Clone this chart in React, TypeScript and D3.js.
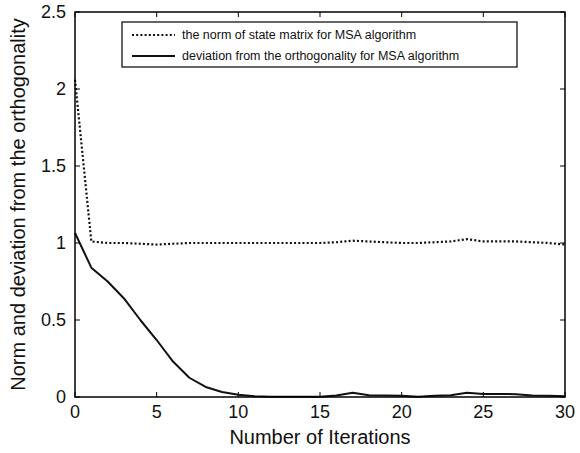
import React from "react";
import * as d3 from "d3";

// Iteration index 0..30
const iterations = d3.range(0, 31);

// Norm of the state matrix per iteration
const normValues = [
  2.06, 1.01, 1.0, 1.0, 0.995, 0.99, 0.995, 1.0, 1.0, 1.0, 1.0,
  1.0, 1.0, 1.0, 1.0, 1.0, 1.005, 1.015, 1.01, 1.005, 1.0,
  1.0, 1.005, 1.01, 1.025, 1.01, 1.01, 1.01, 1.005, 1.0, 0.99,
];

// Deviation from orthogonality per iteration
const deviationValues = [
  1.065, 0.84, 0.75, 0.64, 0.5, 0.37, 0.23, 0.125, 0.065, 0.032, 0.014,
  0.005, 0.002, 0.002, 0.002, 0.002, 0.01, 0.028, 0.012, 0.01, 0.008,
  0.002, 0.008, 0.012, 0.028, 0.02, 0.02, 0.018, 0.01, 0.008, 0.005,
];

const xTicks = [0, 5, 10, 15, 20, 25, 30];
const yTicks = [0, 0.5, 1, 1.5, 2, 2.5];

const legendLabels = [
  "the norm of state matrix for MSA algorithm",
  "deviation from the orthogonality for MSA algorithm",
];

const W = 580;
const H = 453;
const margin = { left: 75, right: 15, top: 12, bottom: 56 };
const font = "Liberation Sans, Arial, sans-serif";

export default function App() {
  const x = d3.scaleLinear().domain([0, 30]).range([margin.left, W - margin.right]);
  const y = d3.scaleLinear().domain([0, 2.5]).range([H - margin.bottom, margin.top]);
  const line = d3
    .line<number>()
    .x((_, i) => x(iterations[i]))
    .y((d) => y(d));

  const x0 = x(0), x1 = x(30), y0 = y(0), y1 = y(2.5);
  const tick = 5;

  const lgX = 122, lgY = 22, lgW = 395, lgH = 45;

  return (
    <svg
      width={W}
      height={H}
      style={{ position: "absolute", left: 0, top: 0, background: "#fff" }}
      fontFamily={font}
    >
      <rect width={W} height={H} fill="#fff" />
      {/* data lines */}
      <path d={line(normValues) || ""} fill="none" stroke="#111" strokeWidth={2.2} strokeDasharray="2,2.2" />
      <path d={line(deviationValues) || ""} fill="none" stroke="#111" strokeWidth={2} strokeLinejoin="round" />

      {/* frame */}
      <rect x={x0} y={y1} width={x1 - x0} height={y0 - y1} fill="none" stroke="#000" strokeWidth={1.5} />

      {/* x ticks */}
      {xTicks.map((t) => (
        <g key={"x" + t}>
          <line x1={x(t)} x2={x(t)} y1={y0} y2={y0 - tick} stroke="#000" strokeWidth={1} />
          <line x1={x(t)} x2={x(t)} y1={y1} y2={y1 + tick} stroke="#000" strokeWidth={1} />
          <text x={x(t)} y={y0 + 21} textAnchor="middle" fontSize={18} fill="#111">
            {t}
          </text>
        </g>
      ))}
      {/* y ticks */}
      {yTicks.map((t) => (
        <g key={"y" + t}>
          <line x1={x0} x2={x0 + tick} y1={y(t)} y2={y(t)} stroke="#000" strokeWidth={1} />
          <line x1={x1} x2={x1 - tick} y1={y(t)} y2={y(t)} stroke="#000" strokeWidth={1} />
          <text x={x0 - 9} y={y(t)} dy="0.35em" textAnchor="end" fontSize={18} fill="#111">
            {t}
          </text>
        </g>
      ))}

      {/* axis titles */}
      <text x={(x0 + x1) / 2} y={444} textAnchor="middle" fontSize={20} fill="#111">
        Number of Iterations
      </text>
      <text
        transform={`translate(25,${(y0 + y1) / 2}) rotate(-90)`}
        textAnchor="middle"
        fontSize={20}
        fill="#111"
      >
        Norm and deviation from the orthogonality
      </text>

      {/* legend */}
      <rect x={lgX} y={lgY} width={lgW} height={lgH} fill="#fff" stroke="#000" strokeWidth={1.2} />
      <line x1={lgX + 10} x2={lgX + 53} y1={lgY + 13} y2={lgY + 13} stroke="#111" strokeWidth={2.2} strokeDasharray="2,2.2" />
      <line x1={lgX + 10} x2={lgX + 53} y1={lgY + 34} y2={lgY + 34} stroke="#111" strokeWidth={2} />
      {legendLabels.map((l, i) => (
        <text key={l} x={lgX + 60} y={lgY + 13 + i * 21} dy="0.35em" fontSize={12.5} fill="#111">
          {l}
        </text>
      ))}
    </svg>
  );
}
